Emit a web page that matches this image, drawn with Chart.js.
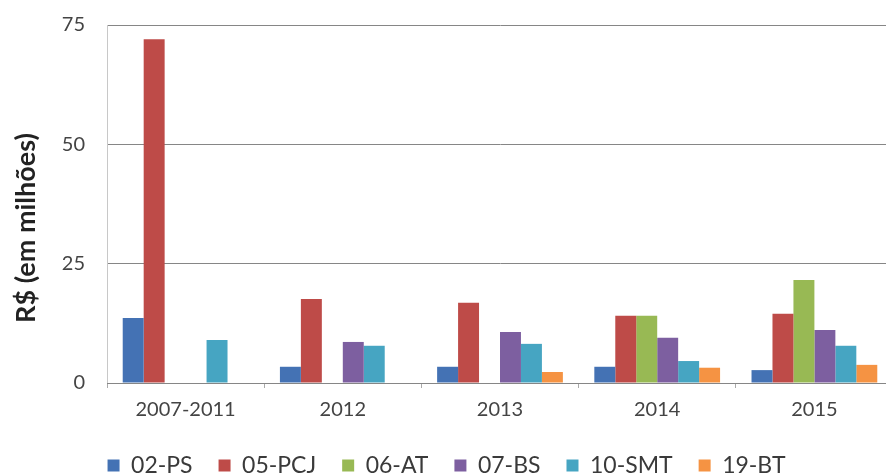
<!DOCTYPE html>
<html>
<head>
<meta charset="utf-8">
<script src="https://cdn.jsdelivr.net/npm/chart.js@4"></script>
<style>
  html, body { margin: 0; padding: 0; background: #fff; overflow: hidden; }
  #wrap { width: 893px; height: 475px; }
</style>
</head>
<body>
<div id="wrap"><canvas id="chart" width="893" height="475"></canvas></div>
<script>
// categories and series (R$ milhões)
const periods = ['2007-2011', '2012', '2013', '2014', '2015'];
const ps02 = [13.6, 3.4, 3.4, 3.4, 2.7];
const pcj05 = [72, 17.6, 16.8, 14.1, 14.5];
const at06 = [null, null, null, 14.1, 21.6];
const bs07 = [null, 8.6, 10.7, 9.5, 11.1];
const smt10 = [9.0, 7.8, 8.2, 4.6, 7.8];
const bt19 = [null, null, 2.3, 3.2, 3.8];
const yTicks = [0, 25, 50, 75];
const yTitle = 'R$ (em milhões)';

const FONT = 'Lato, "Open Sans", sans-serif';

const series = [
  { label: '02-PS', data: ps02, color: '#4472b4' },
  { label: '05-PCJ', data: pcj05, color: '#be4b48' },
  { label: '06-AT', data: at06, color: '#98b954' },
  { label: '07-BS', data: bs07, color: '#7d5fa0' },
  { label: '10-SMT', data: smt10, color: '#46a5c2' },
  { label: '19-BT', data: bt19, color: '#f59343' }
];

// axis title sits a bit below the plot's middle in the original, so draw it by hand
const yTitlePlugin = {
  id: 'yTitle',
  afterDraw(chart) {
    const ctx = chart.ctx;
    const area = chart.chartArea;
    ctx.save();
    ctx.translate(26, area.top + (area.bottom - area.top) * 0.567);
    ctx.rotate(-Math.PI / 2);
    ctx.font = `bold 27px ${FONT}`;
    ctx.fillStyle = '#222';
    ctx.textAlign = 'center';
    ctx.textBaseline = 'middle';
    ctx.fillText(yTitle, 0, 0);
    ctx.restore();
  }
};

new Chart(document.getElementById('chart'), {
  type: 'bar',
  data: {
    labels: periods,
    datasets: series.map(s => ({
      label: s.label,
      data: s.data,
      backgroundColor: s.color,
      borderWidth: 0,
      barPercentage: 1,
      categoryPercentage: 0.8
    }))
  },
  options: {
    responsive: false,
    animation: false,
    layout: { padding: { top: 25, right: 0, left: 0, bottom: -12 } },
    plugins: {
      legend: {
        position: 'bottom',
        labels: {
          color: '#3a3a3a',
          font: { family: FONT, size: 23 },
          boxWidth: 12,
          boxHeight: 12,
          padding: 26
        }
      },
      tooltip: { enabled: false }
    },
    scales: {
      y: {
        min: 0,
        max: 75,
        afterBuildTicks: axis => { axis.ticks = yTicks.map(v => ({ value: v })); },
        afterFit: axis => {
          axis.width = 107;
          axis.paddingTop = 0;
          axis.paddingBottom = 0;
        },
        ticks: { color: '#444', font: { family: FONT, size: 20 }, padding: 22 },
        grid: { color: '#868686', lineWidth: 1, drawTicks: false },
        border: { display: true, color: '#c8c8c8' }
      },
      x: {
        afterFit: axis => { axis.height = 45; },
        ticks: { color: '#444', font: { family: FONT, size: 20 }, padding: 10 },
        grid: { drawOnChartArea: false, offset: true, tickLength: 5, color: '#aaa' },
        border: { color: '#868686' }
      }
    }
  },
  plugins: [yTitlePlugin]
});
</script>
</body>
</html>
